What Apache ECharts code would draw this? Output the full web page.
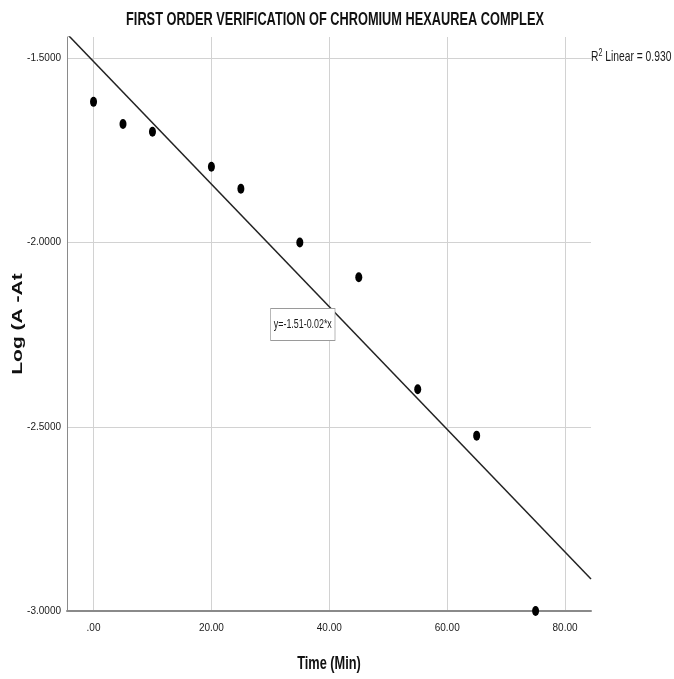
<!DOCTYPE html>
<html>
<head>
<meta charset="utf-8">
<script src="https://cdn.jsdelivr.net/npm/echarts@6/dist/echarts.min.js"></script>
<style>
  html, body { margin: 0; padding: 0; background: #fff; }
  #chart { width: 674px; height: 679px; }
</style>
</head>
<body>
<div id="chart"></div>
<script>
// Time (min) vs log(A - At)
const times = [0, 5, 10, 20, 25, 35, 45, 55, 65, 75];
const logValues = [-1.618, -1.678, -1.699, -1.794, -1.854, -2.0, -2.094, -2.398, -2.524, -3.0];
const xRange = [-4.5, 84.4];
const yRange = [-3.0, -1.442];
const fitLabel = 'y=-1.51-0.02*x';
const r2Label = '0.930';

const FONT = "'Liberation Sans', Arial, sans-serif";
const SQUEEZE = 0.71; // the SPSS export is squashed sideways

// least squares fit of the points, drawn across the x range
const n = times.length;
const mx = times.reduce((a, b) => a + b, 0) / n;
const my = logValues.reduce((a, b) => a + b, 0) / n;
let sxy = 0, sxx = 0;
times.forEach((t, i) => {
  sxy += (t - mx) * (logValues[i] - my);
  sxx += (t - mx) * (t - mx);
});
const slope = sxy / sxx;
const intercept = my - slope * mx;
const fitLine = xRange.map(x => [x, intercept + slope * x]);

const chart = echarts.init(document.getElementById('chart'));

const option = {
  animation: false,
  grid: { left: 67, right: 83, top: 37, bottom: 68 },
  xAxis: {
    type: 'value',
    min: xRange[0],
    max: xRange[1],
    splitNumber: 4,
    axisLine: { show: true, onZero: false, lineStyle: { color: '#8a8a8a', width: 2 } },
    axisTick: { show: false },
    axisLabel: {
      showMinLabel: false,
      showMaxLabel: false,
      margin: 12,
      fontFamily: FONT,
      fontSize: 10,
      color: '#1a1a1a',
      formatter: v => (v === 0 ? '.00' : v.toFixed(2))
    },
    splitLine: { show: true, showMinLine: false, showMaxLine: false, lineStyle: { color: '#d2d2d2', width: 1 } }
  },
  yAxis: {
    type: 'value',
    min: yRange[0],
    max: yRange[1],
    interval: 0.5,
    axisLine: { show: true, onZero: false, lineStyle: { color: '#8a8a8a', width: 1 } },
    axisTick: { show: false },
    axisLabel: {
      showMaxLabel: false,
      margin: 6,
      fontFamily: FONT,
      fontSize: 10,
      color: '#1a1a1a',
      formatter: v => v.toFixed(4)
    },
    splitLine: { show: true, showMinLine: false, showMaxLine: false, lineStyle: { color: '#d2d2d2', width: 1 } }
  },
  series: [
    {
      name: 'Fit',
      type: 'line',
      data: fitLine,
      symbol: 'none',
      clip: true,
      lineStyle: { color: '#222', width: 1.5 },
      z: 3
    },
    {
      name: 'Log (A -At',
      type: 'scatter',
      data: times.map((t, i) => [t, logValues[i]]),
      symbol: 'circle',
      symbolSize: [7, 10],
      itemStyle: { color: '#000', opacity: 1 },
      clip: false,
      z: 4
    }
  ],
  graphic: [
    {
      // chart title
      type: 'text',
      x: 335,
      y: 20,
      scaleX: SQUEEZE,
      style: {
        text: 'FIRST ORDER VERIFICATION OF CHROMIUM HEXAUREA COMPLEX',
        fontFamily: FONT,
        fontWeight: 'bold',
        fontSize: 18,
        fill: '#111',
        align: 'center',
        verticalAlign: 'middle'
      }
    },
    {
      // x axis name
      type: 'text',
      x: 329,
      y: 664,
      scaleX: SQUEEZE,
      style: {
        text: 'Time (Min)',
        fontFamily: FONT,
        fontWeight: 'bold',
        fontSize: 18,
        fill: '#111',
        align: 'center',
        verticalAlign: 'middle'
      }
    },
    {
      // y axis name
      type: 'text',
      x: 18,
      y: 324,
      rotation: Math.PI / 2,
      scaleY: SQUEEZE,
      style: {
        text: 'Log (A -At',
        fontFamily: FONT,
        fontWeight: 'bold',
        fontSize: 21,
        fill: '#111',
        align: 'center',
        verticalAlign: 'middle'
      }
    },
    {
      type: 'text',
      x: 591,
      y: 48,
      scaleX: SQUEEZE,
      style: {
        text: '{r|R}{s|2}{r| Linear = ' + r2Label + '}',
        rich: {
          r: { fontFamily: FONT, fontSize: 14.5, fill: '#1a1a1a', verticalAlign: 'bottom' },
          s: { fontFamily: FONT, fontSize: 10, fill: '#1a1a1a', verticalAlign: 'top', padding: [0, 0, 6, 0] }
        }
      }
    },
    {
      type: 'text',
      x: 271,
      y: 309,
      scaleX: SQUEEZE,
      z: 10,
      style: {
        text: fitLabel,
        fontFamily: FONT,
        fontSize: 12.5,
        fill: '#1a1a1a',
        backgroundColor: '#fff',
        borderColor: '#9a9a9a',
        borderWidth: 1,
        padding: [9, 4, 9, 4]
      }
    }
  ]
};

chart.setOption(option);
</script>
</body>
</html>
